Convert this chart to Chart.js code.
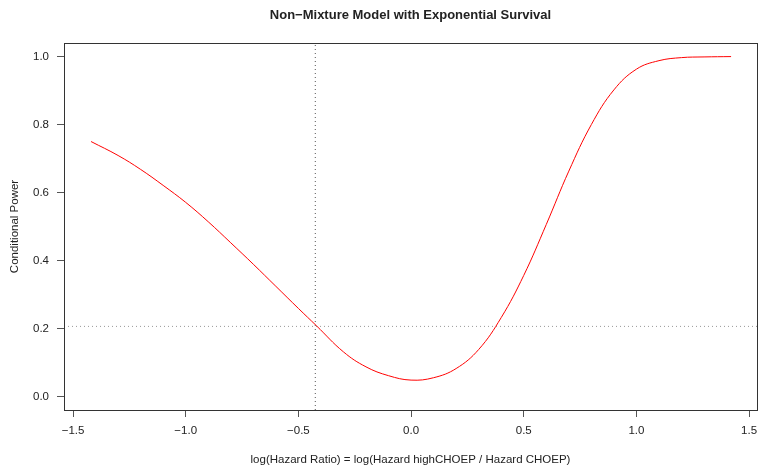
<!DOCTYPE html>
<html lang="en">
<head>
    <meta charset="UTF-8">
    <title>Non-Mixture Model with Exponential Survival</title>
    <script src="https://cdn.jsdelivr.net/npm/chart.js@4.4.0/dist/chart.umd.min.js"></script>
    <style>
        html, body { margin: 0; padding: 0; background: #ffffff; }
        .chart-container { position: relative; width: 760px; height: 469px; }
    </style>
</head>
<body>
    <div class="chart-container">
        <canvas id="powerChart" width="760" height="469"></canvas>
    </div>
    <script>
        // log hazard ratio grid and conditional power
        const logHR = [-1.42, -1.3, -1.2, -1.1, -1.0, -0.9, -0.8, -0.7, -0.6, -0.5, -0.42,
                       -0.3, -0.2, -0.1, 0.0, 0.1, 0.2, 0.3, 0.4, 0.5, 0.6, 0.7, 0.8, 0.9,
                       1.0, 1.1, 1.2, 1.3, 1.42];
        const condPower = [0.750, 0.709, 0.668, 0.621, 0.571, 0.514, 0.452, 0.389, 0.324, 0.259, 0.208,
                           0.131, 0.087, 0.061, 0.048, 0.055, 0.082, 0.138, 0.232, 0.356, 0.506, 0.663, 0.800, 0.902,
                           0.963, 0.988, 0.997, 0.999, 1.0];

        // reference lines (observed log HR and its conditional power)
        const refLogHR = -0.425;
        const refPower = 0.206;

        const xTicks = [-1.5, -1.0, -0.5, 0.0, 0.5, 1.0, 1.5];
        const yTicks = [0.0, 0.2, 0.4, 0.6, 0.8, 1.0];
        const xRange = [-1.54, 1.535];
        const yRange = [-0.04, 1.04];

        const FONT = '"Liberation Sans", Arial, Helvetica, sans-serif';
        const fmt = v => (v < 0 ? '\u2212' : '') + Math.abs(v).toFixed(1);

        // box around the plot, main title and axis titles
        const frame = {
            id: 'frame',
            afterDraw(chart) {
                const { ctx, chartArea: a } = chart;
                ctx.save();
                ctx.strokeStyle = '#333333';
                ctx.lineWidth = 1;
                ctx.strokeRect(Math.round(a.left) + 0.5, Math.round(a.top) + 0.5,
                               Math.round(a.right - a.left), Math.round(a.bottom - a.top));
                const cx = (a.left + a.right) / 2;
                ctx.fillStyle = '#222222';
                ctx.textAlign = 'center';
                ctx.textBaseline = 'middle';
                ctx.font = 'bold 13px ' + FONT;
                ctx.fillText('Non\u2212Mixture Model with Exponential Survival', cx, 15);
                ctx.font = '11.5px ' + FONT;
                ctx.fillText('log(Hazard Ratio) = log(Hazard highCHOEP / Hazard CHOEP)', cx, 460);
                ctx.translate(15, (a.top + a.bottom) / 2);
                ctx.rotate(-Math.PI / 2);
                ctx.fillText('Conditional Power', 0, 0);
                ctx.restore();
            }
        };

        const ctx = document.getElementById('powerChart').getContext('2d');
        const powerChart = new Chart(ctx, {
            type: 'line',
            data: {
                datasets: [{
                    data: logHR.map((x, i) => ({ x: x, y: condPower[i] })),
                    borderColor: '#ff0000',
                    borderWidth: 1,
                    pointRadius: 0,
                    tension: 0.4,
                    fill: false
                }, {
                    data: [{ x: refLogHR, y: yRange[0] }, { x: refLogHR, y: yRange[1] }],
                    borderColor: '#555555',
                    borderWidth: 1,
                    borderDash: [1, 3],
                    pointRadius: 0
                }, {
                    data: [{ x: xRange[0], y: refPower }, { x: xRange[1], y: refPower }],
                    borderColor: '#999999',
                    borderWidth: 1,
                    borderDash: [1, 3],
                    pointRadius: 0
                }]
            },
            options: {
                responsive: false,
                animation: false,
                devicePixelRatio: 1,
                layout: { padding: { left: 0, top: 43, right: 3, bottom: 0 } },
                plugins: {
                    legend: { display: false },
                    tooltip: { enabled: false }
                },
                scales: {
                    x: {
                        type: 'linear',
                        min: xRange[0],
                        max: xRange[1],
                        afterBuildTicks: s => { s.ticks = xTicks.map(v => ({ value: v })); },
                        afterFit: s => { s.height = 59; s.paddingLeft = 0; s.paddingRight = 0; },
                        grid: { drawOnChartArea: false, drawTicks: true, tickLength: 7, color: '#555555' },
                        border: { display: false },
                        ticks: {
                            color: '#222222',
                            font: { family: FONT, size: 11.5 },
                            padding: 7,
                            maxRotation: 0,
                            autoSkip: false,
                            callback: v => fmt(v)
                        }
                    },
                    y: {
                        type: 'linear',
                        min: yRange[0],
                        max: yRange[1],
                        afterBuildTicks: s => { s.ticks = yTicks.map(v => ({ value: v })); },
                        afterFit: s => { s.width = 64; s.paddingTop = 0; s.paddingBottom = 0; },
                        grid: { drawOnChartArea: false, drawTicks: true, tickLength: 7, color: '#555555' },
                        border: { display: false },
                        ticks: {
                            color: '#222222',
                            font: { family: FONT, size: 11.5 },
                            padding: 8,
                            autoSkip: false,
                            callback: v => fmt(v)
                        }
                    }
                }
            },
            plugins: [frame]
        });
    </script>
</body>
</html>
